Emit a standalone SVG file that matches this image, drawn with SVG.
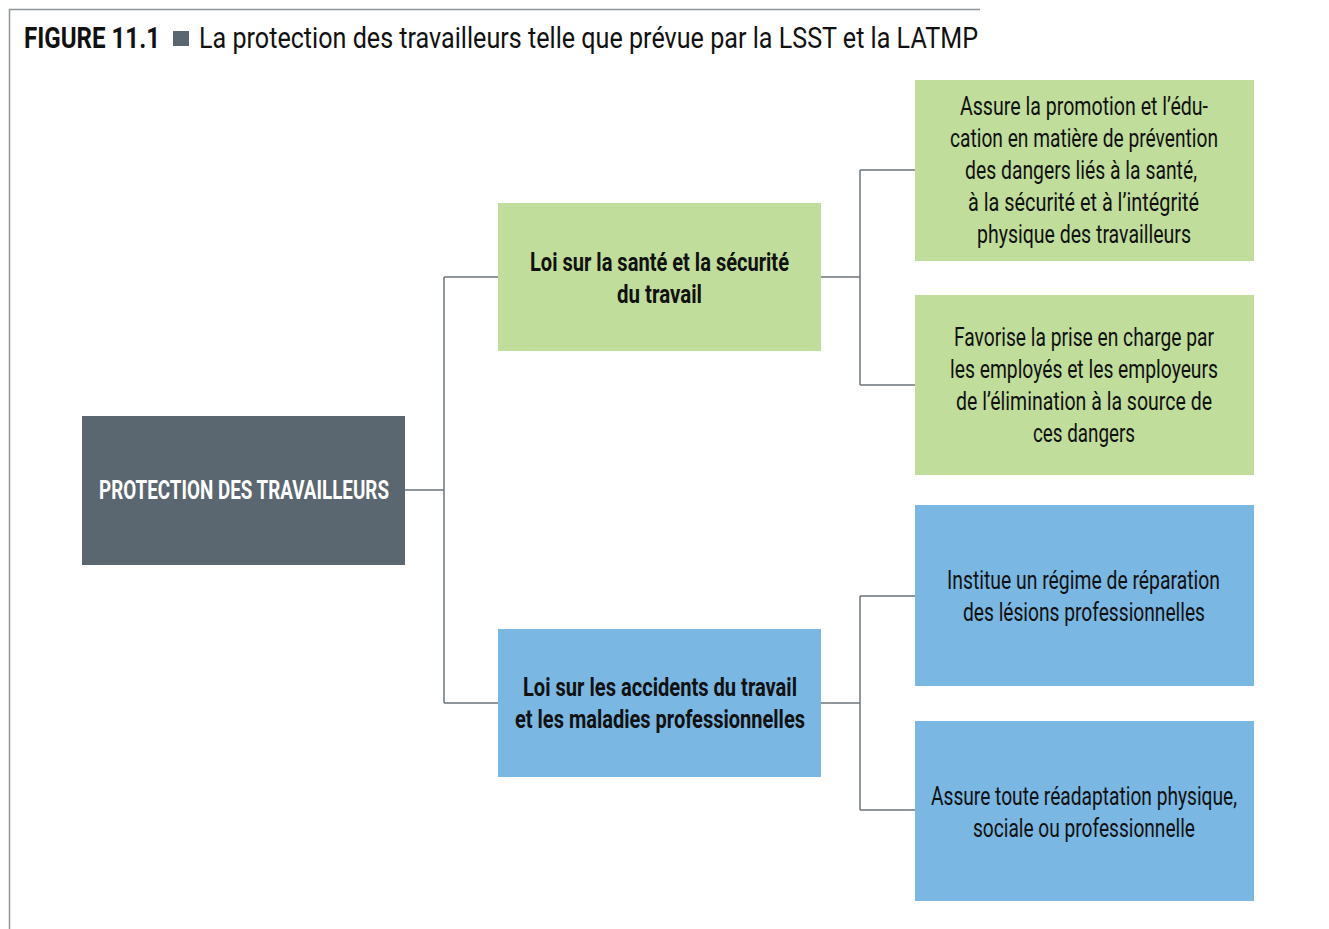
<svg xmlns="http://www.w3.org/2000/svg" width="1329" height="929" viewBox="0 0 1329 929">
<style>
.t{font-family:Roboto,"Liberation Sans",sans-serif;font-size:26px;fill:#111;text-anchor:middle}
.b{font-weight:bold;fill:#111}
.w{fill:#fff;font-weight:bold}
.g{fill:#c0dd9b}
.bl{fill:#7ab7e2}
.c{fill:none;stroke:#6b757d;stroke-width:1.5}
</style>
<rect width="1329" height="929" fill="#fff"/>
<path d="M9.5 929V9.5H980" fill="none" stroke="#8c949a" stroke-width="1.5"/>
<g id="title">
<text x="24" y="48" font-family="Roboto,'Liberation Sans',sans-serif" font-size="29" font-weight="bold" fill="#111" textLength="136" lengthAdjust="spacingAndGlyphs">FIGURE 11.1</text>
<rect x="173" y="31" width="16" height="15" fill="#5b6770"/>
<text x="199" y="48" font-family="Roboto,'Liberation Sans',sans-serif" font-size="29" fill="#111" textLength="779" lengthAdjust="spacingAndGlyphs">La protection des travailleurs telle que prévue par la LSST et la LATMP</text>
</g>
<g id="connectors">
<path class="c" d="M405 490H444M444 277V703M444 277H498M444 703H498"/>
<path class="c" d="M821 277H860M860 170V385M860 170H915M860 385H915"/>
<path class="c" d="M821 703H860M860 596V810M860 596H915M860 810H915"/>
</g>
<g id="root">
<rect x="82" y="416" width="323" height="149" fill="#5b6770"/>
<text class="t w" x="244" y="499" textLength="290" lengthAdjust="spacingAndGlyphs">PROTECTION DES TRAVAILLEURS</text>
</g>
<g id="lsst">
<rect class="g" x="498" y="203" width="323" height="148"/>
<text class="t b" x="659.5" y="271" textLength="259" lengthAdjust="spacingAndGlyphs">Loi sur la santé et la sécurité</text>
<text class="t b" x="659.5" y="303" textLength="85" lengthAdjust="spacingAndGlyphs">du travail</text>
</g>
<g id="latmp">
<rect class="bl" x="498" y="629" width="323" height="148"/>
<text class="t b" x="660" y="696" textLength="274" lengthAdjust="spacingAndGlyphs">Loi sur les accidents du travail</text>
<text class="t b" x="660" y="728" textLength="290" lengthAdjust="spacingAndGlyphs">et les maladies professionnelles</text>
</g>
<g id="promo">
<rect class="g" x="915" y="80" width="339" height="181"/>
<text class="t" x="1084" y="115" textLength="248" lengthAdjust="spacingAndGlyphs">Assure la promotion et l’édu-</text>
<text class="t" x="1084" y="147" textLength="268" lengthAdjust="spacingAndGlyphs">cation en matière de prévention</text>
<text class="t" x="1081" y="179" textLength="232" lengthAdjust="spacingAndGlyphs">des dangers liés à la santé,</text>
<text class="t" x="1083.5" y="211" textLength="231" lengthAdjust="spacingAndGlyphs">à la sécurité et à l’intégrité</text>
<text class="t" x="1084" y="243" textLength="214" lengthAdjust="spacingAndGlyphs">physique des travailleurs</text>
</g>
<g id="prise">
<rect class="g" x="915" y="295" width="339" height="180"/>
<text class="t" x="1084" y="346" textLength="260" lengthAdjust="spacingAndGlyphs">Favorise la prise en charge par</text>
<text class="t" x="1084" y="378" textLength="268" lengthAdjust="spacingAndGlyphs">les employés et les employeurs</text>
<text class="t" x="1084" y="410" textLength="256" lengthAdjust="spacingAndGlyphs">de l’élimination à la source de</text>
<text class="t" x="1084" y="442" textLength="102" lengthAdjust="spacingAndGlyphs">ces dangers</text>
</g>
<g id="regime">
<rect class="bl" x="915" y="505" width="339" height="181"/>
<text class="t" x="1083.5" y="589" textLength="273" lengthAdjust="spacingAndGlyphs">Institue un régime de réparation</text>
<text class="t" x="1084" y="621" textLength="242" lengthAdjust="spacingAndGlyphs">des lésions professionnelles</text>
</g>
<g id="readapt">
<rect class="bl" x="915" y="721" width="339" height="180"/>
<text class="t" x="1084" y="805" textLength="306" lengthAdjust="spacingAndGlyphs">Assure toute réadaptation physique,</text>
<text class="t" x="1084" y="837" textLength="222" lengthAdjust="spacingAndGlyphs">sociale ou professionnelle</text>
</g>
</svg>
